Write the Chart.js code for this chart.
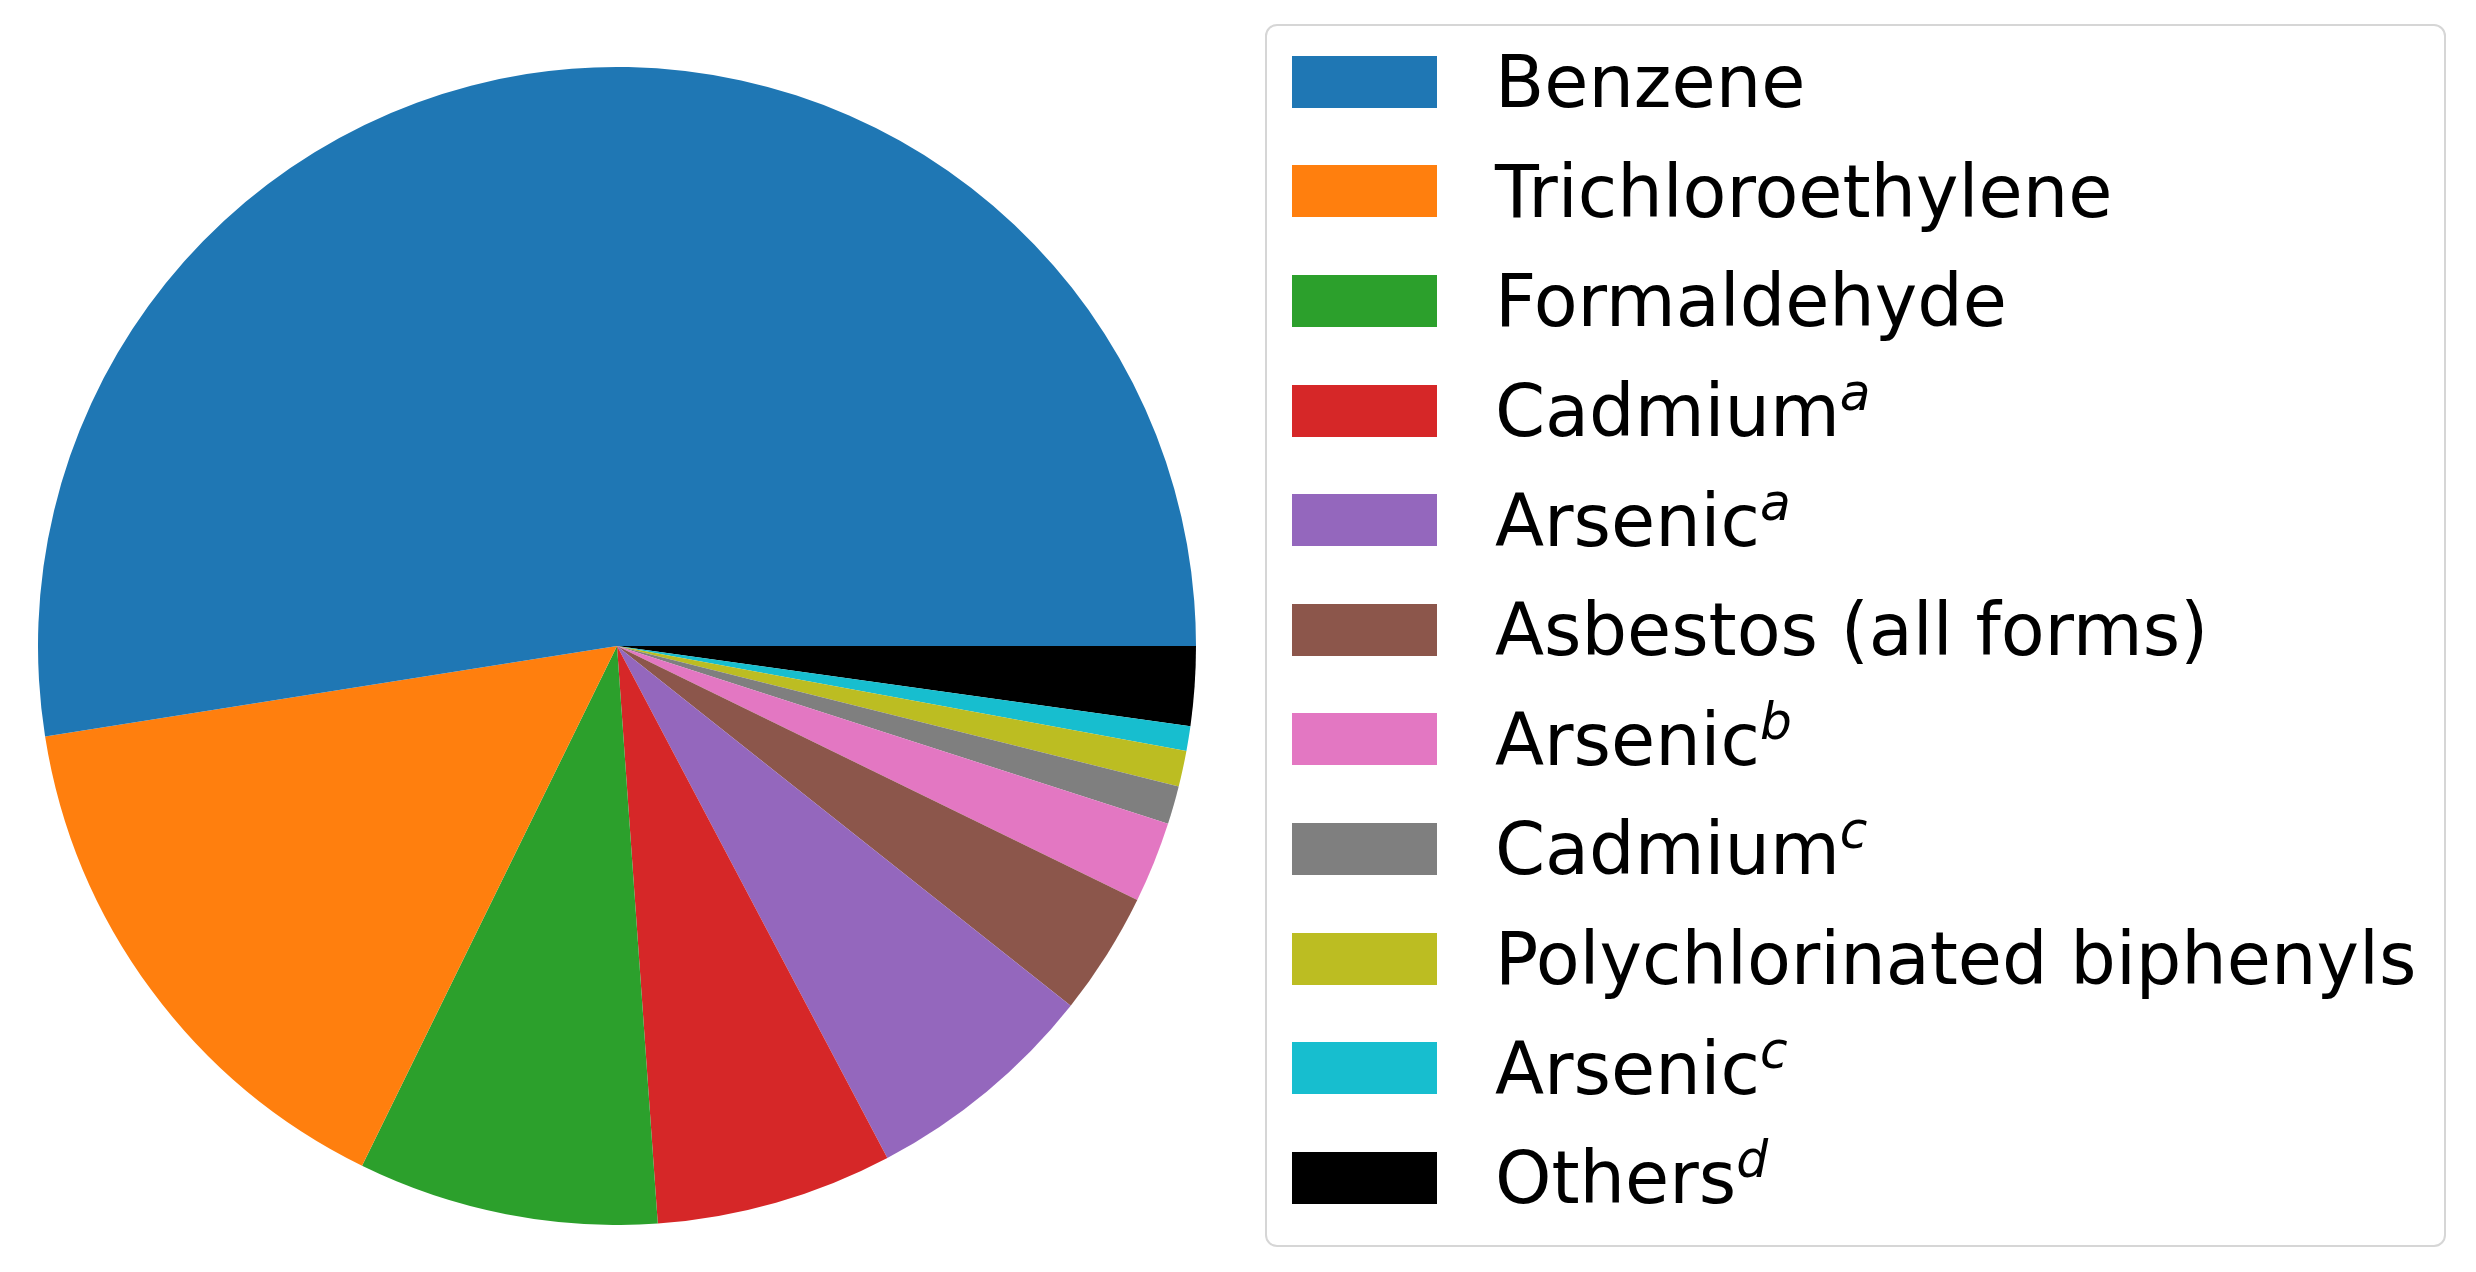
<!DOCTYPE html>
<html>
<head>
<meta charset="utf-8">
<script src="https://cdn.jsdelivr.net/npm/chart.js@4"></script>
<style>
  html, body { margin: 0; padding: 0; background: #fff; }
  body { width: 2476px; height: 1272px; position: relative; overflow: hidden; font-family: "DejaVu Sans", sans-serif; }
  #pieWrap { position: absolute; left: 38px; top: 67px; width: 1158px; height: 1158px; }
  #legend {
    position: absolute; left: 1265px; top: 24px; width: 1181px; height: 1223px;
    box-sizing: border-box; border: 2px solid #d6d6d6; border-radius: 12px; padding-top: 1px;
  }
  .row { height: 109.6px; display: flex; align-items: center; }
  .patch { width: 145px; height: 52px; margin-left: 25px; flex: none; }
  .txt { margin-left: 58px; font-size: 73px; color: #000; white-space: nowrap; line-height: 1;
         transform: scaleX(0.983); transform-origin: left center; }
  .txt sup { font-style: italic; font-size: 0.7em; vertical-align: 0.5em; line-height: 0; }
</style>
</head>
<body>
<div id="pieWrap"><canvas id="pie" width="1158" height="1158"></canvas></div>
<div id="legend"></div>
<script>
// data, in legend order (matplotlib counter-clockwise from east)
var labels = ["Benzene", "Trichloroethylene", "Formaldehyde", "Cadmium", "Arsenic",
              "Asbestos (all forms)", "Arsenic", "Cadmium", "Polychlorinated biphenyls", "Arsenic", "Others"];
var marks = ["", "", "", "a", "a", "", "b", "c", "", "c", "d"];
var shares = [52.5, 15.25, 8.38, 6.61, 6.6, 3.44, 2.26, 1.07, 1.0, 0.69, 2.21];
var colors = ["#1f77b4", "#ff7f0e", "#2ca02c", "#d62728", "#9467bd",
              "#8c564b", "#e377c2", "#7f7f7f", "#bcbd22", "#17becf", "#000000"];

// chart.js goes clockwise, so feed it reversed and start at 3 o'clock
var fullLabels = labels.map(function(l, i){ return marks[i] ? l + " " + marks[i] : l; });
var ctx = document.getElementById("pie");
var pieChart = new Chart(ctx, {
  type: 'pie',
  data: {
    labels: fullLabels.slice().reverse(),
    datasets: [{
      data: shares.slice().reverse(),
      backgroundColor: colors.slice().reverse(),
      borderWidth: 0,
      hoverOffset: 0
    }]
  },
  options: {
    responsive: false,
    animation: false,
    rotation: 90,
    layout: { padding: 0 },
    plugins: { legend: { display: false }, tooltip: { enabled: false } }
  }
});

// legend
var leg = document.getElementById("legend");
for (var i = 0; i < labels.length; i++) {
  var row = document.createElement("div");
  row.className = "row";
  var p = document.createElement("div");
  p.className = "patch";
  p.style.background = colors[i];
  var t = document.createElement("div");
  t.className = "txt";
  t.textContent = labels[i];
  if (marks[i]) {
    var s = document.createElement("sup");
    s.textContent = marks[i];
    t.appendChild(s);
  }
  row.appendChild(p);
  row.appendChild(t);
  leg.appendChild(row);
}
</script>
</body>
</html>
